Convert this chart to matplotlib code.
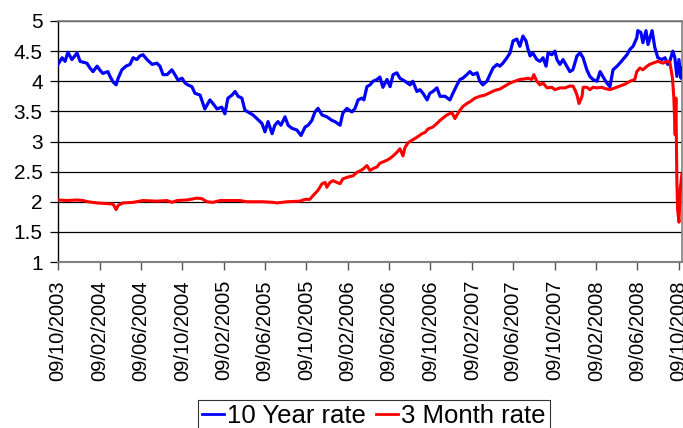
import matplotlib
matplotlib.use("Agg")
import matplotlib.pyplot as plt
import matplotlib.dates as mdates
import pandas as pd

plt.rcParams['font.family'] = ['Liberation Sans', 'DejaVu Sans']

start_date = "2003-10-09"

# 10 Year rate: (days after start date, value)
ten_year_days = [0, 12, 21, 29, 41, 56, 65, 85, 94, 103, 115, 124, 132, 147, 153, 162, 171, 177,
                 188, 200, 212, 221, 232, 241, 250, 262, 277, 291, 300, 309, 321, 335, 344, 353,
                 365, 374, 382, 394, 403, 418, 432, 438, 447, 456, 468, 482, 491, 500, 512, 521,
                 530, 541, 550, 565, 574, 585, 600, 609, 618, 630, 638, 647, 656, 668, 677, 688,
                 703, 715, 727, 736, 747, 756, 765, 777, 791, 806, 815, 830, 838, 850, 865, 874,
                 883, 894, 900, 909, 918, 927, 939, 947, 956, 968, 977, 986, 997, 1006, 1021, 1036,
                 1044, 1056, 1065, 1074, 1086, 1094, 1103, 1115, 1124, 1139, 1153, 1162, 1174, 1183,
                 1191, 1203, 1212, 1221, 1233, 1241, 1250, 1262, 1271, 1280, 1292, 1300, 1309, 1321,
                 1330, 1339, 1350, 1359, 1368, 1377, 1383, 1389, 1397, 1409, 1418, 1427, 1436, 1442,
                 1453, 1462, 1468, 1477, 1486, 1497, 1506, 1515, 1527, 1536, 1545, 1556, 1565, 1574,
                 1586, 1595, 1603, 1615, 1624, 1633, 1645, 1653, 1662, 1674, 1683, 1692, 1703, 1706,
                 1715, 1721, 1730, 1736, 1748, 1756, 1765, 1777, 1786, 1794, 1800, 1809, 1815, 1821,
                 1827, 1833, 1836]
ten_year_rate = [4.28, 4.39, 4.33, 4.48, 4.36, 4.47, 4.33, 4.30, 4.22, 4.16, 4.25, 4.18, 4.13, 4.16, 4.08, 3.99, 3.94, 4.05,
                 4.19, 4.25, 4.28, 4.39, 4.36, 4.42, 4.44, 4.36, 4.28, 4.30, 4.25, 4.11, 4.11, 4.19, 4.11, 4.02,
                 4.05, 3.97, 3.94, 3.91, 3.80, 3.77, 3.54, 3.60, 3.69, 3.63, 3.54, 3.57, 3.46, 3.72, 3.77, 3.83,
                 3.75, 3.72, 3.52, 3.47, 3.44, 3.38, 3.30, 3.16, 3.33, 3.13, 3.27, 3.33, 3.27, 3.41, 3.27, 3.22,
                 3.19, 3.10, 3.24, 3.27, 3.35, 3.49, 3.55, 3.44, 3.41, 3.35, 3.33, 3.27, 3.47, 3.55, 3.49, 3.55,
                 3.69, 3.72, 3.69, 3.91, 3.94, 4.00, 4.03, 4.07, 3.90, 4.03, 3.91, 4.11, 4.14, 4.05, 4.00, 3.94,
                 4.00, 3.83, 3.86, 3.80, 3.69, 3.80, 3.83, 3.89, 3.75, 3.75, 3.69, 3.80, 3.94, 4.03,
                 4.05, 4.11, 4.16, 4.11, 4.14, 4.00, 3.94, 4.00, 4.11, 4.22, 4.28, 4.25, 4.30, 4.39,
                 4.47, 4.67, 4.70, 4.58, 4.75, 4.67, 4.53, 4.42, 4.47, 4.36, 4.33, 4.39, 4.25, 4.47,
                 4.44, 4.50, 4.36, 4.28, 4.36, 4.25, 4.16, 4.19, 4.42, 4.47, 4.39, 4.19, 4.08, 4.03,
                 4.00, 4.16, 4.08, 3.97, 3.91, 4.19, 4.25, 4.30, 4.36, 4.44, 4.53, 4.58, 4.72, 4.84,
                 4.81, 4.64, 4.84, 4.61, 4.84, 4.56, 4.39, 4.36, 4.39, 4.28, 4.33, 4.50, 4.39, 4.08,
                 4.36, 4.05, 4.22]

# 3 Month rate: (days after start date, value)
three_month_days = [0, 26, 56, 74, 88, 115, 144, 162, 171, 177, 191, 221, 250, 291, 321, 335, 350, 380,
                    409, 424, 438, 456, 477, 506, 535, 556, 574, 603, 633, 644, 674, 712, 727, 741,
                    750, 765, 777, 786, 791, 800, 809, 821, 830, 838, 853, 868, 880, 888, 897, 909,
                    918, 927, 939, 947, 956, 968, 977, 986, 997, 1006, 1015, 1021, 1030, 1041, 1056,
                    1071, 1080, 1089, 1103, 1115, 1124, 1133, 1144, 1159, 1168, 1177, 1191, 1203, 1212,
                    1227, 1241, 1256, 1271, 1286, 1300, 1315, 1330, 1344, 1359, 1374, 1383, 1394, 1400,
                    1409, 1418, 1427, 1439, 1453, 1462, 1477, 1492, 1506, 1515, 1521, 1527, 1533, 1542,
                    1545, 1556, 1565, 1574, 1586, 1600, 1609, 1624, 1639, 1653, 1668, 1683, 1697, 1703,
                    1712, 1721, 1733, 1741, 1750, 1765, 1780, 1792, 1800, 1808, 1812, 1816, 1818, 1821,
                    1823, 1827, 1831, 1836]
three_month_rate = [2.03, 2.02, 2.03, 2.02, 2.00, 1.98, 1.97, 1.96, 1.87, 1.94, 1.98, 1.99, 2.02, 2.01, 2.02, 1.99, 2.02, 2.03,
                    2.06, 2.05, 2.00, 1.99, 2.02, 2.02, 2.02, 2.00, 2.00, 2.00, 1.99, 1.98, 2.00, 2.01, 2.04, 2.04,
                    2.10, 2.19, 2.30, 2.32, 2.24, 2.32, 2.35, 2.32, 2.30, 2.38, 2.41, 2.43, 2.49, 2.51, 2.54, 2.60,
                    2.52, 2.55, 2.58, 2.64, 2.66, 2.69, 2.72, 2.76, 2.82, 2.88, 2.76, 2.90, 2.98, 3.02, 3.07,
                    3.13, 3.15, 3.21, 3.24, 3.30, 3.35, 3.39, 3.44, 3.48, 3.38, 3.47, 3.58, 3.63, 3.66,
                    3.72, 3.75, 3.77, 3.81, 3.85, 3.87, 3.92, 3.97, 4.00, 4.03, 4.04, 4.05, 4.03, 4.11,
                    4.00, 3.94, 3.97, 3.89, 3.90, 3.86, 3.89, 3.89, 3.92, 3.92, 3.86, 3.77, 3.63, 3.75,
                    3.90, 3.90, 3.86, 3.90, 3.89, 3.90, 3.88, 3.86, 3.89, 3.92, 3.95, 4.00, 4.03, 4.16,
                    4.22, 4.19, 4.25, 4.28, 4.30, 4.33, 4.30, 4.33, 4.32, 4.05, 3.72, 3.11, 3.72, 2.33,
                    1.88, 1.66, 2.22, 2.47]

y_ticks = [1, 1.5, 2, 2.5, 3, 3.5, 4, 4.5, 5]
y_tick_labels = ["1", "1.5", "2", "2.5", "3", "3.5", "4", "4.5", "5"]
series_names = ["10 Year rate", "3 Month rate"]

t0 = pd.Timestamp(start_date)
ten_dates = t0 + pd.to_timedelta(ten_year_days, unit="D")
three_dates = t0 + pd.to_timedelta(three_month_days, unit="D")
tick_dates = pd.date_range(start_date, "2008-10-09", freq=pd.DateOffset(months=4))

fig = plt.figure(figsize=(6.83, 4.28), dpi=100)
ax = fig.add_axes([58 / 683, 1 - 262 / 428, 624 / 683, 241 / 428])

ax.plot(ten_dates, ten_year_rate, color="#0000FF", lw=2.3, label=series_names[0], zorder=3)
ax.plot(three_dates, three_month_rate, color="#FF0000", lw=2.2, label=series_names[1], zorder=3)

ax.set_ylim(1, 5)
ax.set_xlim(t0, t0 + pd.Timedelta(days=1836))
ax.set_yticks(y_ticks)
ax.set_yticklabels(y_tick_labels)
ax.yaxis.grid(True, color="black", lw=0.9)
ax.set_axisbelow(True)

ax.set_xticks(tick_dates)
ax.xaxis.set_major_formatter(mdates.DateFormatter("%d/%m/%Y"))
for lbl in ax.get_xticklabels():
    lbl.set_rotation(90)

ax.tick_params(axis="y", direction="out", length=6, width=0.9, color="black", labelsize=15, pad=5)
ax.tick_params(axis="x", direction="out", length=6, width=1.0, color="#555555", labelsize=14.5, pad=7)

for side in ["top", "right", "bottom"]:
    ax.spines[side].set_color("#808080")
    ax.spines[side].set_linewidth(1.2)
ax.spines["bottom"].set_linewidth(1.5)
ax.spines["left"].set_color("black")
ax.spines["left"].set_linewidth(1.0)

leg = fig.legend(loc="upper center", bbox_to_anchor=(374 / 683, 1 - 400 / 428), ncol=2,
                 fontsize=18.5, frameon=True, fancybox=False, edgecolor="black",
                 handlelength=0.85, handletextpad=0.12, columnspacing=0.4,
                 borderpad=0.15, borderaxespad=0)
leg.get_frame().set_linewidth(0.8)
for line in leg.get_lines():
    line.set_linewidth(2.0)

fig.savefig("out.png", dpi=100)
